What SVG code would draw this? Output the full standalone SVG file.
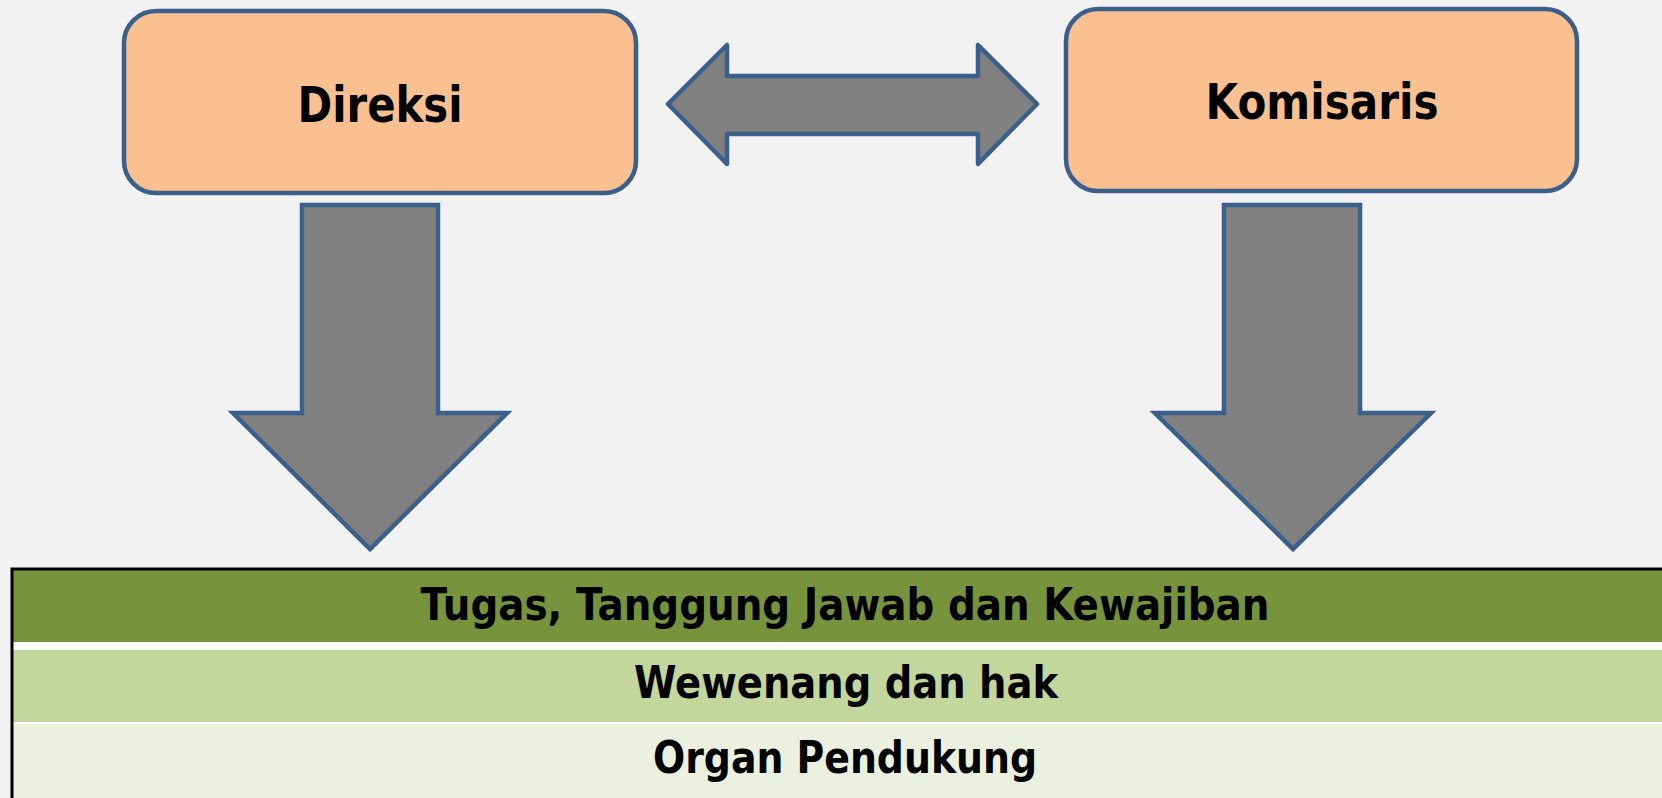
<svg xmlns="http://www.w3.org/2000/svg" width="1662" height="798" viewBox="0 0 1662 798">
  <style>
    .box { fill: #fac090; stroke: #3a5f8b; stroke-width: 4.5; }
    .arrow { fill: #808080; stroke: #3a5f8b; stroke-width: 4.5; }
    .lbl { font-family: "DejaVu Sans", "Liberation Sans", sans-serif; font-weight: bold; fill: #000; text-anchor: middle; }
    .node { font-size: 49px; }
    .row { font-size: 44px; }
  </style>
  <rect x="0" y="0" width="1662" height="798" fill="#f2f2f2"/>

  <!-- top nodes -->
  <g id="direksi">
    <rect class="box" x="124" y="11" width="512" height="182" rx="32" ry="32"/>
    <text class="lbl node" x="380" y="122" textLength="165" lengthAdjust="spacingAndGlyphs">Direksi</text>
  </g>
  <g id="komisaris">
    <rect class="box" x="1066" y="9" width="511" height="182" rx="32" ry="32"/>
    <text class="lbl node" x="1322" y="119" textLength="233" lengthAdjust="spacingAndGlyphs">Komisaris</text>
  </g>

  <!-- block arrows -->
  <g id="connectors">
    <path class="arrow" stroke-linejoin="round" d="M668,104 L727,45 L727,76 L978,76 L978,45 L1037,104 L978,164 L978,134 L727,134 L727,164 Z"/>
    <path class="arrow" d="M302,205 L438,205 L438,413 L507,413 L370,549 L233,413 L302,413 Z"/>
    <path class="arrow" d="M1224,205 L1360,205 L1360,413 L1431,413 L1293,549 L1155,413 L1224,413 Z"/>
  </g>

  <!-- table of responsibilities -->
  <g id="table">
    <rect x="12" y="569" width="1650" height="73" fill="#77933c"/>
    <rect x="12" y="642" width="1650" height="8" fill="#ffffff"/>
    <rect x="12" y="650" width="1650" height="72" fill="#c3d69b"/>
    <rect x="12" y="722" width="1650" height="2" fill="#ffffff"/>
    <rect x="12" y="724" width="1650" height="74" fill="#ebf1de"/>
    <path d="M12,798 L12,569 L1662,569" fill="none" stroke="#000" stroke-width="3"/>
    <text class="lbl row" x="845" y="620" textLength="849" lengthAdjust="spacingAndGlyphs">Tugas, Tanggung Jawab dan Kewajiban</text>
    <text class="lbl row" x="846" y="698" textLength="424" lengthAdjust="spacingAndGlyphs">Wewenang dan hak</text>
    <text class="lbl row" x="845" y="773" textLength="384" lengthAdjust="spacingAndGlyphs">Organ Pendukung</text>
  </g>
</svg>
